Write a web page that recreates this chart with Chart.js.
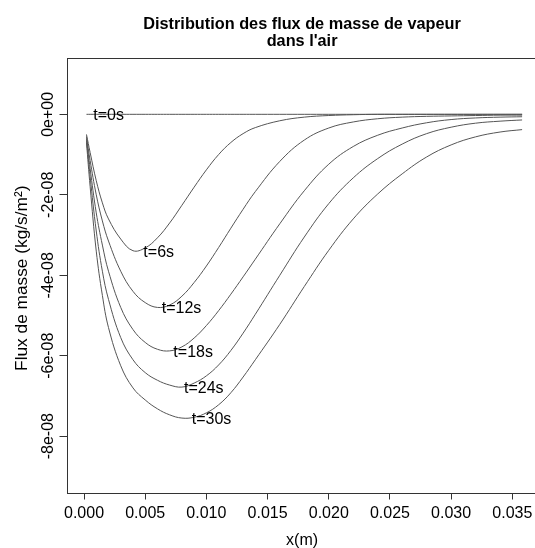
<!DOCTYPE html>
<html>
<head>
<meta charset="utf-8">
<script src="https://cdn.jsdelivr.net/npm/chart.js@4.4.1/dist/chart.umd.min.js"></script>
<style>
  html, body { margin: 0; padding: 0; overflow: hidden; background: #fff; }
  canvas { display: block; }
</style>
</head>
<body>
<canvas id="c" width="560" height="548"></canvas>
<script>
// ---- data (flux values in units of 1e-8 kg/s/m²) ----
const UNIT = 1e-8;
const xGrid = [0.0002, 0.0005, 0.001, 0.0015, 0.002, 0.003, 0.004, 0.005, 0.006, 0.007, 0.008, 0.009,
               0.010, 0.011, 0.012, 0.013, 0.014, 0.016, 0.018, 0.020, 0.022, 0.024, 0.026, 0.028,
               0.030, 0.032, 0.034, 0.0358];
const t0  = [0, 0, 0, 0, 0, 0, 0, 0, 0, 0, 0, 0, 0, 0, 0, 0, 0, 0, 0, 0, 0, 0, 0, 0, 0, 0, 0, 0];
const t6  = [-0.5, -0.95, -1.65, -2.2, -2.6, -3.1, -3.39, -3.32, -3.07, -2.70, -2.26, -1.81,
             -1.38, -1.00, -0.70, -0.48, -0.33, -0.16, -0.07, -0.03, -0.01, 0, 0, 0, 0, 0, 0, 0];
const t12 = [-0.55, -1.15, -2.0, -2.65, -3.15, -3.9, -4.4, -4.68, -4.80, -4.74, -4.52, -4.18,
             -3.77, -3.31, -2.83, -2.36, -1.92, -1.17, -0.64, -0.34, -0.19, -0.11, -0.07, -0.05,
             -0.04, -0.03, -0.02, -0.02];
const t18 = [-0.6, -1.35, -2.45, -3.25, -3.9, -4.8, -5.35, -5.67, -5.84, -5.88, -5.78, -5.56,
             -5.25, -4.88, -4.47, -4.04, -3.60, -2.72, -1.90, -1.24, -0.80, -0.52, -0.34, -0.21,
             -0.13, -0.09, -0.07, -0.06];
const t24 = [-0.65, -1.55, -2.9, -3.9, -4.6, -5.55, -6.1, -6.42, -6.61, -6.73, -6.78, -6.68,
             -6.5, -6.23, -5.87, -5.44, -4.97, -4.0, -3.05, -2.22, -1.58, -1.1, -0.74, -0.48,
             -0.32, -0.22, -0.17, -0.14];
const t30 = [-0.7, -1.8, -3.4, -4.5, -5.3, -6.25, -6.8, -7.1, -7.32, -7.47, -7.55, -7.53,
             -7.42, -7.22, -6.92, -6.53, -6.1, -5.22, -4.28, -3.38, -2.6, -1.98, -1.48, -1.06,
             -0.76, -0.56, -0.44, -0.38];
const seriesNames = ['t=0s', 't=6s', 't=12s', 't=18s', 't=24s', 't=30s'];
const seriesValues = [t0, t6, t12, t18, t24, t30];

// curve labels (anchor x, centre y in 1e-8 units)
const labelText = ['t=0s', 't=6s', 't=12s', 't=18s', 't=24s', 't=30s'];
const labelX = [0.00076, 0.00485, 0.00635, 0.0073, 0.00817, 0.0088];
const labelY = [0, -3.40, -4.80, -5.88, -6.78, -7.56];

// ticks
const xTickValues = [0, 0.005, 0.010, 0.015, 0.020, 0.025, 0.030, 0.035];
const xTickLabels = ['0.000', '0.005', '0.010', '0.015', '0.020', '0.025', '0.030', '0.035'];
const yTickValues = [-8, -6, -4, -2, 0];
const yTickLabels = ['-8e-08', '-6e-08', '-4e-08', '-2e-08', '0e+00'];

const titleLines = ['Distribution des flux de masse de vapeur', "dans l'air"];
const xTitle = 'x(m)';
const yTitle = 'Flux de masse (kg/s/m\u00B2)';

// ---- drawing ----
const FONT = '"Liberation Sans", Arial, Helvetica, sans-serif';
const FRAME = '#333';
const CURVE = '#555';

const textPlugin = {
  id: 'rtext',
  afterDraw(chart) {
    const { ctx, chartArea: a, scales: { x, y } } = chart;
    ctx.save();
    // frame
    ctx.strokeStyle = FRAME;
    ctx.lineWidth = 1;
    ctx.strokeRect(Math.round(a.left) + 0.5, Math.round(a.top) + 0.5,
                   Math.round(a.right - a.left), Math.round(a.bottom - a.top));
    ctx.fillStyle = '#000';
    ctx.textBaseline = 'alphabetic';
    const cx = (a.left + a.right) / 2 - 1;
    // main title
    ctx.font = 'bold 16.3px ' + FONT;
    ctx.textAlign = 'center';
    titleLines.forEach((s, i) => ctx.fillText(s, cx, a.top - 29.5 + i * 17.2));
    // y tick labels (rotated)
    ctx.font = '16px ' + FONT;
    yTickValues.forEach((v, i) => {
      const py = y.getPixelForValue(v * UNIT);
      ctx.save();
      ctx.translate(a.left - 14, py);
      ctx.rotate(-Math.PI / 2);
      ctx.textAlign = 'center';
      ctx.fillText(yTickLabels[i], 0, 0);
      ctx.restore();
    });
    // y axis title
    ctx.save();
    ctx.font = '17.3px ' + FONT;
    ctx.translate(a.left - 39.5, (a.top + a.bottom) / 2 + 3);
    ctx.rotate(-Math.PI / 2);
    ctx.textAlign = 'center';
    ctx.fillText(yTitle, 0, 0);
    ctx.restore();
    // x axis title
    ctx.textAlign = 'center';
    ctx.fillText(xTitle, cx, a.bottom + 52.5);
    // curve labels
    ctx.textAlign = 'left';
    labelText.forEach((s, i) => {
      ctx.fillText(s, x.getPixelForValue(labelX[i]), y.getPixelForValue(labelY[i] * UNIT) + 5.8);
    });
    ctx.restore();
  }
};

new Chart(document.getElementById('c'), {
  type: 'line',
  data: {
    datasets: seriesValues.map((vals, k) => ({
      label: seriesNames[k],
      data: xGrid.map((xv, i) => ({ x: xv, y: vals[i] * UNIT })),
      borderColor: CURVE,
      borderWidth: 1,
      pointRadius: 0,
      fill: false,
      tension: 0.4
    }))
  },
  options: {
    responsive: false,
    animation: false,
    devicePixelRatio: 1,
    layout: { padding: { left: 0, right: 20.4, top: 58, bottom: 0 } },
    plugins: { legend: { display: false }, tooltip: { enabled: false }, title: { display: false } },
    scales: {
      x: {
        type: 'linear',
        min: -0.001432,
        max: 0.03723,
        afterBuildTicks: s => { s.ticks = xTickValues.map(v => ({ value: v })); },
        afterFit: s => { s.height = 55.5; },
        grid: { drawOnChartArea: false, drawTicks: true, tickLength: 7, color: FRAME },
        border: { display: false },
        ticks: {
          font: { size: 16, family: FONT },
          color: '#000',
          padding: 4,
          maxRotation: 0,
          minRotation: 0,
          autoSkip: false,
          callback: (v, i) => xTickLabels[i]
        }
      },
      y: {
        type: 'linear',
        min: -9.4e-8,
        max: 1.4e-8,
        afterBuildTicks: s => { s.ticks = yTickValues.map(v => ({ value: v * UNIT })); },
        afterFit: s => { s.width = 66.5; },
        grid: { drawOnChartArea: false, drawTicks: true, tickLength: 7, color: FRAME },
        border: { display: false },
        ticks: { display: false }
      }
    }
  },
  plugins: [textPlugin]
});
</script>
</body>
</html>
